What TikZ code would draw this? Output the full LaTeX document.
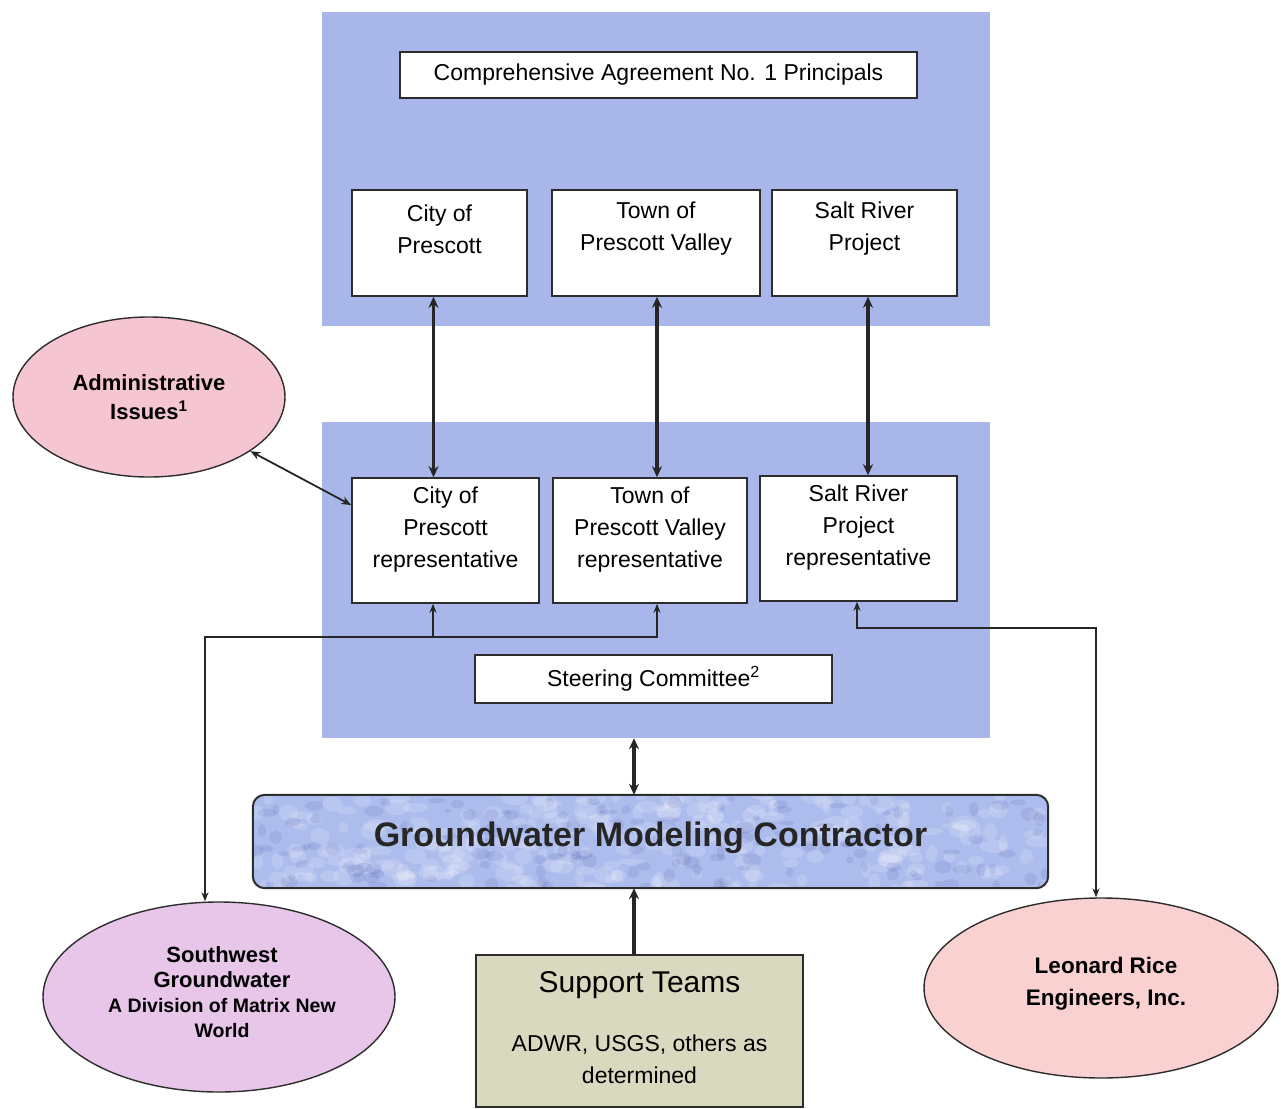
\documentclass[tikz,border=0pt]{standalone}
\usepackage{fontspec}
\setmainfont{Liberation Sans}
\usetikzlibrary{arrows.meta,shapes.geometric,calc}
\definecolor{panelblue}{RGB}{168,182,234}
\definecolor{gmcblue}{RGB}{172,188,236}
\definecolor{supportfill}{RGB}{217,217,191}
\definecolor{admpink}{RGB}{245,197,210}
\definecolor{swlav}{RGB}{231,198,234}
\definecolor{lrpink}{RGB}{249,209,209}
\definecolor{edge}{RGB}{45,45,45}
\begin{document}
\begin{tikzpicture}[x=1pt,y=-1pt,
  panel/.style={rectangle,fill=panelblue,draw=none,inner sep=0pt},
  wbox/.style={rectangle,fill=white,draw=edge,line width=1.6pt,inner sep=0pt},
  boxtext/.style={align=center,font=\fontsize{23}{32}\selectfont,inner sep=0pt},
  elltext/.style={align=center,font=\fontsize{22}{29}\selectfont\bfseries,inner sep=0pt},
  ell/.style={ellipse,draw=edge,line width=1.4pt,inner sep=0pt},
  thickarr/.style={line width=3.2pt,draw=black!85,{Stealth[length=11pt,width=10pt]}-{Stealth[length=11pt,width=10pt]}},
  thickone/.style={line width=3.2pt,draw=black!85,-{Stealth[length=11pt,width=10pt]}},
  thinarr/.style={line width=1.2pt,draw=black!85,{Stealth[length=9pt,width=7pt]}-{Stealth[length=9pt,width=7pt]}},
  thinone/.style={line width=1.2pt,draw=black!85,-{Stealth[length=9pt,width=7pt]}},
  medarr/.style={line width=1.8pt,draw=black!85,{Stealth[length=10pt,width=8pt]}-{Stealth[length=10pt,width=8pt]}}
]
\useasboundingbox (0,0) rectangle (1281,1108);
\fill[white] (0,0) rectangle (1281,1108);

% panels
\node[panel,minimum width=668pt,minimum height=314pt] (tp) at (656,169) {};
\node[panel,minimum width=668pt,minimum height=316pt] (lp) at (656,580) {};

% top panel content
\node[wbox,minimum width=517pt,minimum height=46pt] (cap) at (658.5,75) {};
\node[boxtext] at (cap) {Comprehensive Agreement No. 1 Principals};

\node[wbox,minimum width=175pt,minimum height=106pt] (p1) at (439.5,243) {};
\node[wbox,minimum width=208pt,minimum height=106pt] (p2) at (656,243) {};
\node[wbox,minimum width=185pt,minimum height=106pt] (p3) at (864.5,243) {};
\node[boxtext] at (439.5,229) {City of\\Prescott};
\node[boxtext] at (656,229) {Town of\\Prescott Valley};
\node[boxtext] at (864.5,229) {Salt River\\Project};

% lower panel content
\node[wbox,minimum width=187pt,minimum height=125pt] (r1) at (445.5,540.5) {};
\node[wbox,minimum width=194pt,minimum height=125pt] (r2) at (650,540.5) {};
\node[wbox,minimum width=197pt,minimum height=125pt] (r3) at (858.5,538.5) {};
\node[boxtext] at (445.5,530) {City of\\Prescott\\representative};
\node[boxtext] at (650,530) {Town of\\Prescott Valley\\representative};
\node[boxtext] at (858.5,528) {Salt River\\Project\\representative};

\node[wbox,minimum width=357pt,minimum height=48pt] (sc) at (653.5,679) {};
\node[boxtext] at (sc) {Steering Committee\textsuperscript{2}};

% ellipses
\node[ell,fill=admpink,minimum width=272pt,minimum height=160pt] (adm) at (149,397) {};
\node[elltext] at (adm) {Administrative\\Issues\textsuperscript{1}};

\node[ell,fill=swlav,minimum width=352pt,minimum height=190pt] (sw) at (219,997) {};
\node[elltext,font=\fontsize{22}{25}\selectfont\bfseries] at (222,992) {Southwest\\Groundwater\\{\fontsize{19.5}{25}\selectfont A Division of Matrix New}\\{\fontsize{19.5}{25}\selectfont World}};

\node[ell,fill=lrpink,minimum width=354pt,minimum height=180pt] (lr) at (1101,988) {};
\node[elltext,font=\fontsize{22.5}{32}\selectfont\bfseries] at (1106,984) {Leonard Rice\\Engineers, Inc.};

% groundwater modeling contractor
\node[rectangle,rounded corners=12pt,fill=gmcblue,minimum width=795pt,minimum height=93pt,inner sep=0pt] (gmc) at (650.5,841.5) {};
\begin{scope}
  \clip[rounded corners=12pt] (gmc.north west) rectangle (gmc.south east);
  \pgfmathsetseed{7}
  \foreach \i in {1,...,260} {
    \pgfmathsetmacro\xx{253+795*rnd}
    \pgfmathsetmacro\yy{795+93*rnd}
    \pgfmathsetmacro\ra{4+10*rnd}
    \pgfmathsetmacro\rb{3+6*rnd}
    \fill[white,opacity=0.16] (\xx,\yy) ellipse ({\ra pt} and {\rb pt});
  }
  \foreach \i in {1,...,140} {
    \pgfmathsetmacro\xx{253+795*rnd}
    \pgfmathsetmacro\yy{795+93*rnd}
    \pgfmathsetmacro\ra{3+7*rnd}
    \pgfmathsetmacro\rb{2+5*rnd}
    \fill[blue!45!black,opacity=0.07] (\xx,\yy) ellipse ({\ra pt} and {\rb pt});
  }
\end{scope}
\draw[draw=edge,line width=2pt,rounded corners=12pt] (gmc.north west) rectangle (gmc.south east);
\node[font=\fontsize{34}{40}\selectfont\bfseries,text=black!85,inner sep=0pt] at (650.5,838) {Groundwater Modeling Contractor};

% support teams
\node[rectangle,fill=supportfill,draw=edge,line width=1.6pt,minimum width=327pt,minimum height=152pt,inner sep=0pt] (st) at (639.5,1031) {};
\node[font=\fontsize{30}{36}\selectfont,inner sep=0pt] at (639.5,985) {Support Teams};
\node[boxtext] at (639.5,1059) {ADWR, USGS, others as\\determined};

% connectors
\draw[thickarr] ([xshift=-6pt]p1.south) -- ([xshift=-6pt]p1.south |- r1.north);
\draw[thickarr] ([xshift=1pt]p2.south) -- ([xshift=1pt]p2.south |- r2.north);
\draw[thickarr] ([xshift=3.5pt]p3.south) -- ([xshift=3.5pt]p3.south |- r3.north);

\coordinate (adtarget) at ($(r1.north west)!0.22!(r1.south west)$);
\draw[medarr] (adm) -- (adtarget);

\coordinate (jl) at (205,637);
\coordinate (jr) at (1096,628);
\draw[thinarr] ([xshift=7pt]r2.south) |- (jl) -- (jl |- sw.north);
\draw[thinone] ([xshift=-12.5pt]r1.south |- jl) -- ([xshift=-12.5pt]r1.south);
\draw[thinarr] ([xshift=-1.5pt]r3.south) |- (jr) -- (jr |- lr.north);

\draw[thickarr] ([xshift=-22pt]lp.south) -- ([xshift=-22pt]lp.south |- gmc.north);
\draw[thickone] ([xshift=-5.5pt]st.north) -- ([xshift=-5.5pt]st.north |- gmc.south);
\end{tikzpicture}
\end{document}
